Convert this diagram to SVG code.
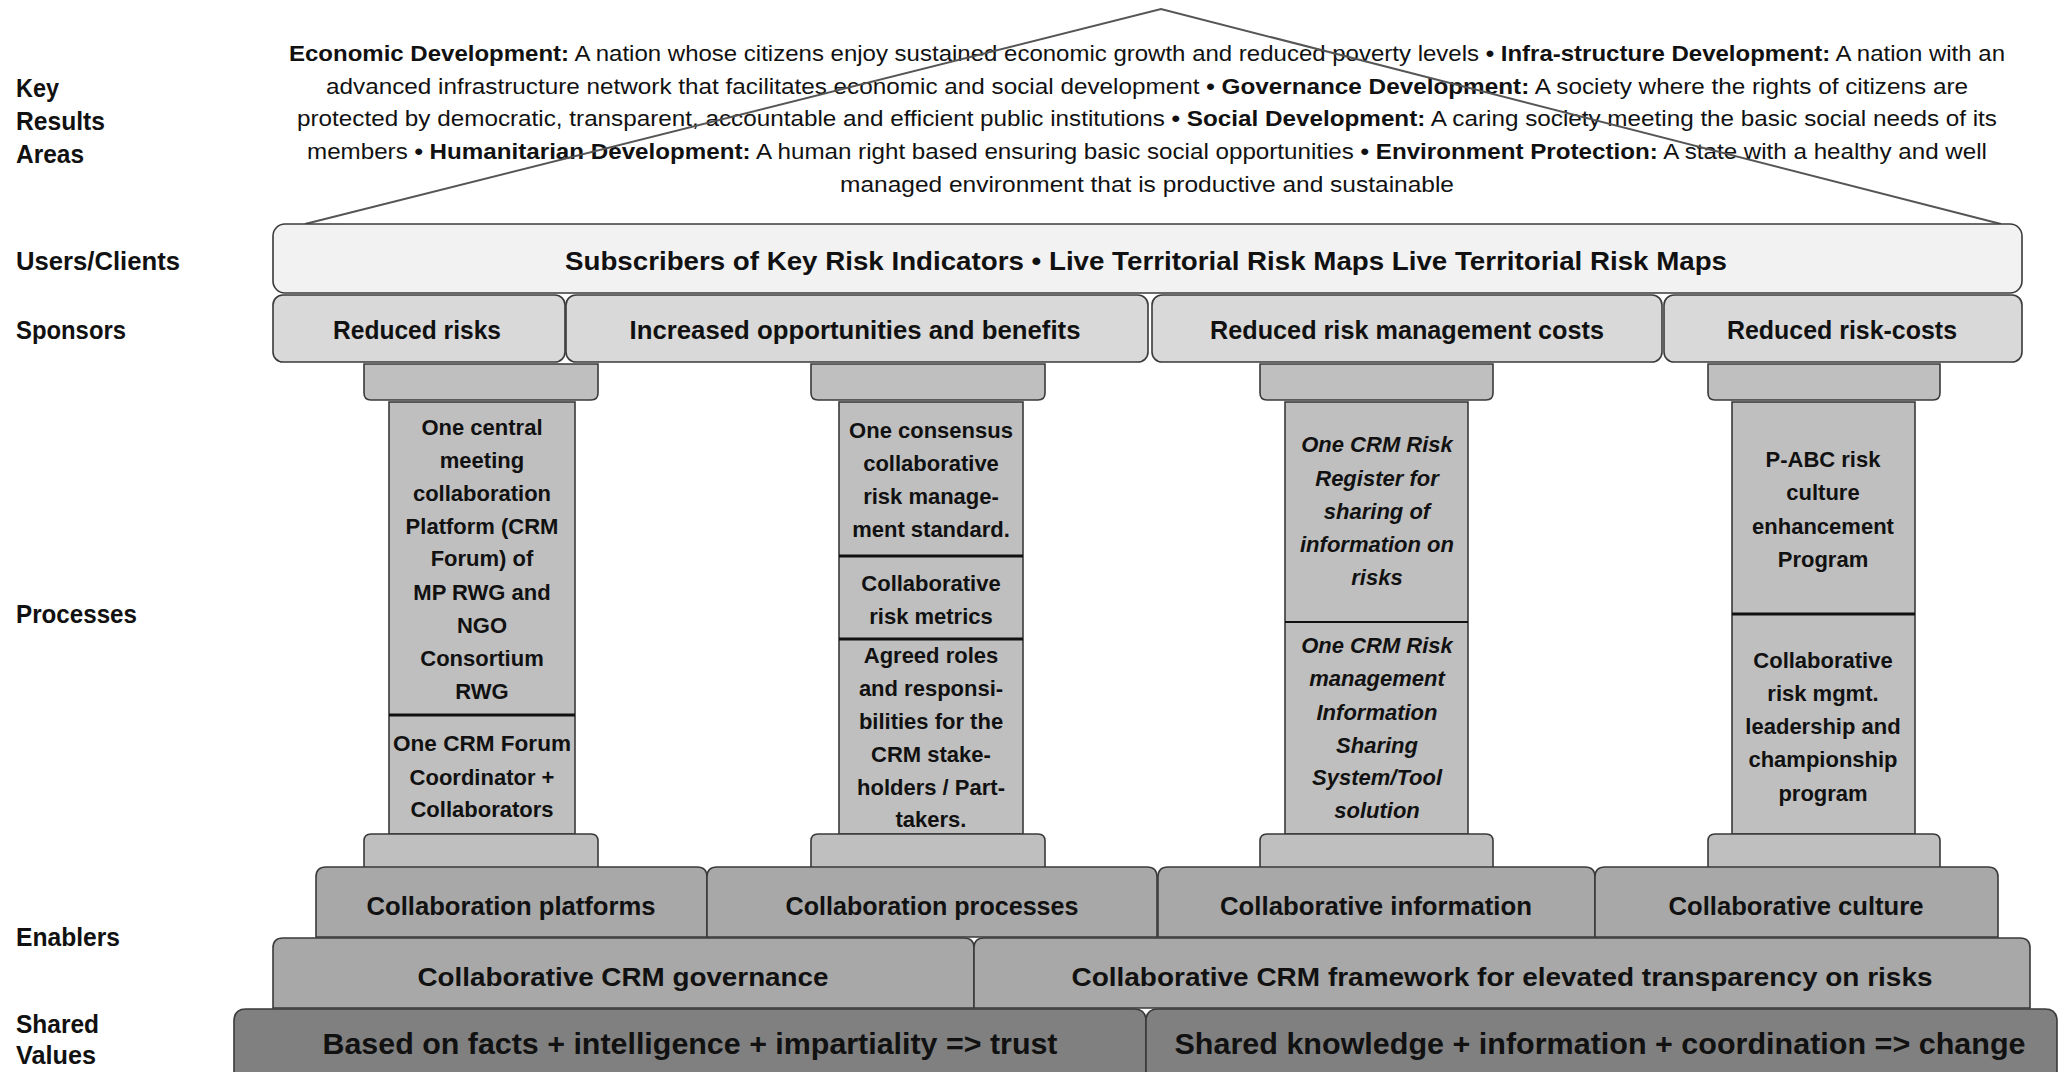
<svg xmlns="http://www.w3.org/2000/svg" width="2062" height="1072" viewBox="0 0 2062 1072">
  <style>
    text { font-family: "Liberation Sans", Arial, sans-serif; fill: #111; }
    .lbl { font-size: 25px; font-weight: bold; }
    .para { font-size: 22px; text-anchor: middle; }
    .b { font-weight: bold; }
    .hd { font-size: 25px; font-weight: bold; text-anchor: middle; }
    .big { font-size: 30px; font-weight: bold; text-anchor: middle; }
    .col { font-size: 22px; font-weight: bold; text-anchor: middle; }
    .it { font-style: italic; }
    .box { stroke: #3a3a3a; stroke-width: 1.6; }
    .white { fill: #f2f2f2; }
    .light { fill: #d9d9d9; }
    .mid { fill: #bfbfbf; }
    .dark { fill: #a8a8a8; }
    .deep { fill: #808080; }
    .div { stroke: #111; stroke-width: 3; }
    .roof { fill: none; stroke: #555; stroke-width: 2; }
  </style>

  <rect width="2062" height="1072" fill="#ffffff"/>

  <!-- Row labels -->
  <g id="row-labels">
    <text class="lbl" x="16" y="97" textLength="43" lengthAdjust="spacingAndGlyphs">Key</text>
    <text class="lbl" x="16" y="130" textLength="89" lengthAdjust="spacingAndGlyphs">Results</text>
    <text class="lbl" x="16" y="163" textLength="68" lengthAdjust="spacingAndGlyphs">Areas</text>
    <text class="lbl" x="16" y="270" textLength="164" lengthAdjust="spacingAndGlyphs">Users/Clients</text>
    <text class="lbl" x="16" y="339" textLength="110" lengthAdjust="spacingAndGlyphs">Sponsors</text>
    <text class="lbl" x="16" y="623" textLength="121" lengthAdjust="spacingAndGlyphs">Processes</text>
    <text class="lbl" x="16" y="946" textLength="104" lengthAdjust="spacingAndGlyphs">Enablers</text>
    <text class="lbl" x="16" y="1033" textLength="83" lengthAdjust="spacingAndGlyphs">Shared</text>
    <text class="lbl" x="16" y="1064" textLength="80" lengthAdjust="spacingAndGlyphs">Values</text>
  </g>

  <!-- Key results areas (roof text) -->
  <g id="key-results">
    <text class="para" x="1147" y="61" textLength="1716" lengthAdjust="spacingAndGlyphs"><tspan class="b">Economic Development:</tspan> A nation whose citizens enjoy sustained economic growth and reduced poverty levels <tspan class="b">• Infra-structure Development:</tspan> A nation with an</text>
    <text class="para" x="1147" y="94" textLength="1642" lengthAdjust="spacingAndGlyphs">advanced infrastructure network that facilitates economic and social development <tspan class="b">• Governance Development:</tspan> A society where the rights of citizens are</text>
    <text class="para" x="1147" y="126" textLength="1700" lengthAdjust="spacingAndGlyphs">protected by democratic, transparent, accountable and efficient public institutions <tspan class="b">• Social Development:</tspan> A caring society meeting the basic social needs of its</text>
    <text class="para" x="1147" y="159" textLength="1680" lengthAdjust="spacingAndGlyphs">members <tspan class="b">• Humanitarian Development:</tspan> A human right based ensuring basic social opportunities <tspan class="b">• Environment Protection:</tspan> A state with a healthy and well</text>
    <text class="para" x="1147" y="192" textLength="614" lengthAdjust="spacingAndGlyphs">managed environment that is productive and sustainable</text>
  </g>

  <!-- Roof outline -->
  <g id="roof">
    <polyline class="roof" points="305,224 1161,9 2001,224"/>
  </g>

  <!-- Users / clients bar -->
  <g id="users">
    <rect class="box white" x="273" y="224" width="1749" height="69" rx="12"/>
    <text class="hd" x="1146" y="270" textLength="1162" lengthAdjust="spacingAndGlyphs">Subscribers of Key Risk Indicators • Live Territorial  Risk Maps Live Territorial  Risk Maps</text>
  </g>

  <!-- Sponsors -->
  <g id="sponsor-reduced-risks">
    <rect class="box light" x="273" y="295" width="292" height="67" rx="10"/>
    <text class="hd" x="417" y="339" textLength="168" lengthAdjust="spacingAndGlyphs">Reduced risks</text>
  </g>
  <g id="sponsor-opportunities">
    <rect class="box light" x="566" y="295" width="582" height="67" rx="10"/>
    <text class="hd" x="855" y="339" textLength="451" lengthAdjust="spacingAndGlyphs">Increased opportunities and benefits</text>
  </g>
  <g id="sponsor-mgmt-costs">
    <rect class="box light" x="1152" y="295" width="510" height="67" rx="10"/>
    <text class="hd" x="1407" y="339" textLength="394" lengthAdjust="spacingAndGlyphs">Reduced risk management costs</text>
  </g>
  <g id="sponsor-risk-costs">
    <rect class="box light" x="1664" y="295" width="358" height="67" rx="10"/>
    <text class="hd" x="1842" y="339" textLength="230" lengthAdjust="spacingAndGlyphs">Reduced risk-costs</text>
  </g>

  <!-- Pillar 1: platforms -->
  <g id="pillar-platforms">
    <path class="box mid" d="M364,364 H598 V393 Q598,400 591,400 H371 Q364,400 364,393 Z"/>
    <rect class="box mid" x="389" y="402" width="186" height="432"/>
    <line class="div" x1="389" y1="715" x2="575" y2="715"/>
    <path class="box mid" d="M364,868 V841 Q364,834 371,834 H591 Q598,834 598,841 V868 Z"/>
    <text class="col" x="482" y="435">One central</text>
    <text class="col" x="482" y="468">meeting</text>
    <text class="col" x="482" y="501">collaboration</text>
    <text class="col" x="482" y="534">Platform (CRM</text>
    <text class="col" x="482" y="566">Forum) of</text>
    <text class="col" x="482" y="600">MP RWG and</text>
    <text class="col" x="482" y="633">NGO</text>
    <text class="col" x="482" y="666">Consortium</text>
    <text class="col" x="482" y="699">RWG</text>
    <text class="col" x="482" y="751" textLength="178" lengthAdjust="spacingAndGlyphs">One CRM Forum</text>
    <text class="col" x="482" y="785">Coordinator +</text>
    <text class="col" x="482" y="817">Collaborators</text>
  </g>

  <!-- Pillar 2: processes -->
  <g id="pillar-processes">
    <path class="box mid" d="M811,364 H1045 V393 Q1045,400 1038,400 H818 Q811,400 811,393 Z"/>
    <rect class="box mid" x="839" y="402" width="184" height="432"/>
    <line class="div" x1="839" y1="556" x2="1023" y2="556"/>
    <line class="div" x1="839" y1="639" x2="1023" y2="639"/>
    <path class="box mid" d="M811,868 V841 Q811,834 818,834 H1038 Q1045,834 1045,841 V868 Z"/>
    <text class="col" x="931" y="438">One consensus</text>
    <text class="col" x="931" y="471">collaborative</text>
    <text class="col" x="931" y="504">risk manage-</text>
    <text class="col" x="931" y="537">ment standard.</text>
    <text class="col" x="931" y="591">Collaborative</text>
    <text class="col" x="931" y="624">risk metrics</text>
    <text class="col" x="931" y="663">Agreed roles</text>
    <text class="col" x="931" y="696">and responsi-</text>
    <text class="col" x="931" y="729">bilities for the</text>
    <text class="col" x="931" y="762">CRM stake-</text>
    <text class="col" x="931" y="795">holders / Part-</text>
    <text class="col" x="931" y="827">takers.</text>
  </g>

  <!-- Pillar 3: information -->
  <g id="pillar-information">
    <path class="box mid" d="M1260,364 H1493 V393 Q1493,400 1486,400 H1267 Q1260,400 1260,393 Z"/>
    <rect class="box mid" x="1285" y="402" width="183" height="432"/>
    <line class="div" x1="1285" y1="622" x2="1468" y2="622" style="stroke-width:2"/>
    <path class="box mid" d="M1260,868 V841 Q1260,834 1267,834 H1486 Q1493,834 1493,841 V868 Z"/>
    <text class="col it" x="1377" y="452">One CRM Risk</text>
    <text class="col it" x="1377" y="486">Register for</text>
    <text class="col it" x="1377" y="519">sharing of</text>
    <text class="col it" x="1377" y="552">information on</text>
    <text class="col it" x="1377" y="585">risks</text>
    <text class="col it" x="1377" y="653">One CRM Risk</text>
    <text class="col it" x="1377" y="686">management</text>
    <text class="col it" x="1377" y="720">Information</text>
    <text class="col it" x="1377" y="753">Sharing</text>
    <text class="col it" x="1377" y="785">System/Tool</text>
    <text class="col it" x="1377" y="818">solution</text>
  </g>

  <!-- Pillar 4: culture -->
  <g id="pillar-culture">
    <path class="box mid" d="M1708,364 H1940 V393 Q1940,400 1933,400 H1715 Q1708,400 1708,393 Z"/>
    <rect class="box mid" x="1732" y="402" width="183" height="432"/>
    <line class="div" x1="1732" y1="614" x2="1915" y2="614"/>
    <path class="box mid" d="M1708,868 V841 Q1708,834 1715,834 H1933 Q1940,834 1940,841 V868 Z"/>
    <text class="col" x="1823" y="467">P-ABC risk</text>
    <text class="col" x="1823" y="500">culture</text>
    <text class="col" x="1823" y="534">enhancement</text>
    <text class="col" x="1823" y="567">Program</text>
    <text class="col" x="1823" y="668">Collaborative</text>
    <text class="col" x="1823" y="701">risk mgmt.</text>
    <text class="col" x="1823" y="734">leadership and</text>
    <text class="col" x="1823" y="767">championship</text>
    <text class="col" x="1823" y="801">program</text>
  </g>

  <!-- Enablers, upper step -->
  <g id="enabler-platforms">
    <path class="box dark" d="M316,937 V877 Q316,867 326,867 H697 Q707,867 707,877 V937 Z"/>
    <text class="hd" x="511" y="915" textLength="289" lengthAdjust="spacingAndGlyphs">Collaboration platforms</text>
  </g>
  <g id="enabler-processes">
    <path class="box dark" d="M707,937 V877 Q707,867 717,867 H1147 Q1157,867 1157,877 V937 Z"/>
    <text class="hd" x="932" y="915" textLength="293" lengthAdjust="spacingAndGlyphs">Collaboration processes</text>
  </g>
  <g id="enabler-information">
    <path class="box dark" d="M1158,937 V877 Q1158,867 1168,867 H1585 Q1595,867 1595,877 V937 Z"/>
    <text class="hd" x="1376" y="915" textLength="312" lengthAdjust="spacingAndGlyphs">Collaborative information</text>
  </g>
  <g id="enabler-culture">
    <path class="box dark" d="M1595,937 V877 Q1595,867 1605,867 H1988 Q1998,867 1998,877 V937 Z"/>
    <text class="hd" x="1796" y="915" textLength="255" lengthAdjust="spacingAndGlyphs">Collaborative culture</text>
  </g>

  <!-- Enablers, lower step -->
  <g id="enabler-governance">
    <path class="box dark" d="M273,1008 V948 Q273,938 283,938 H964 Q974,938 974,948 V1008 Z"/>
    <text class="hd" x="623" y="986" textLength="411" lengthAdjust="spacingAndGlyphs">Collaborative  CRM governance</text>
  </g>
  <g id="enabler-framework">
    <path class="box dark" d="M974,1008 V948 Q974,938 984,938 H2020 Q2030,938 2030,948 V1008 Z"/>
    <text class="hd" x="1502" y="986" textLength="861" lengthAdjust="spacingAndGlyphs">Collaborative  CRM framework  for elevated transparency on risks</text>
  </g>

  <!-- Shared values -->
  <g id="value-trust">
    <path class="box deep" d="M234,1080 V1021 Q234,1009 246,1009 H1134 Q1146,1009 1146,1021 V1080 Z"/>
    <text class="big" x="690" y="1054" textLength="735" lengthAdjust="spacingAndGlyphs">Based on facts + intelligence + impartiality =&gt; trust</text>
  </g>
  <g id="value-change">
    <path class="box deep" d="M1146,1080 V1021 Q1146,1009 1158,1009 H2045 Q2057,1009 2057,1021 V1080 Z"/>
    <text class="big" x="1600" y="1054" textLength="851" lengthAdjust="spacingAndGlyphs">Shared knowledge + information + coordination =&gt; change</text>
  </g>
</svg>
